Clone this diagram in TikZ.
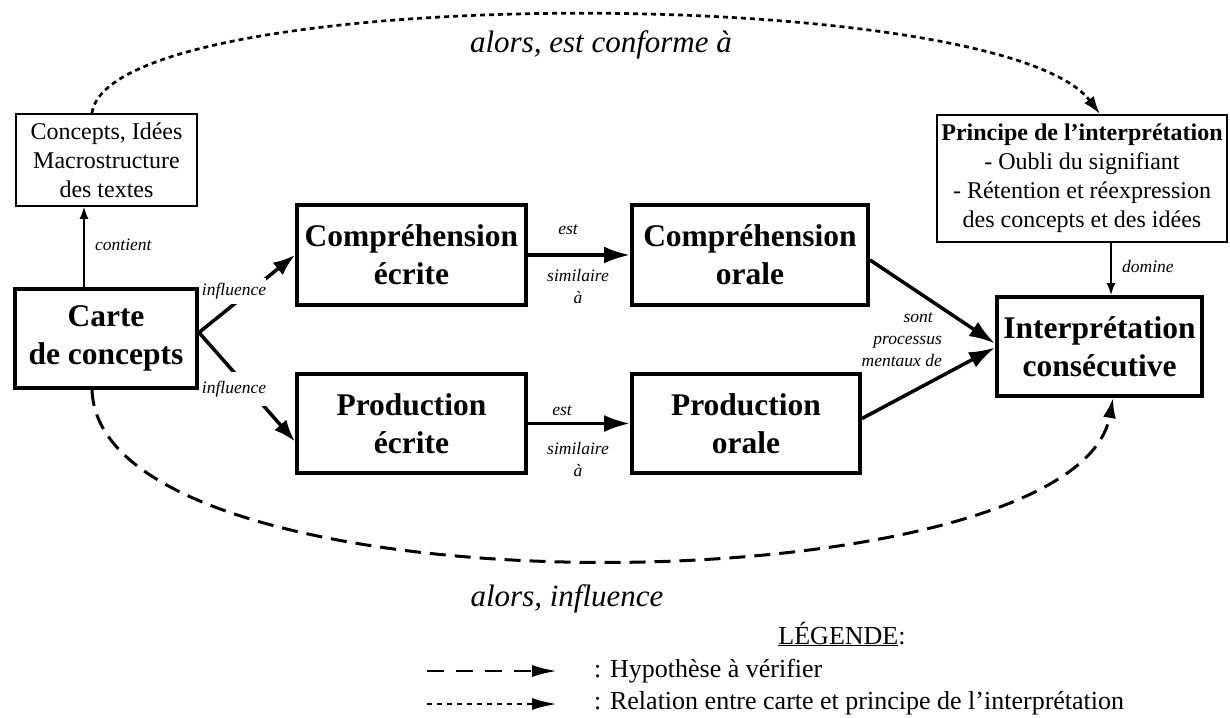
\documentclass[tikz,border=0pt]{standalone}
\usepackage{fontspec}
\setmainfont{Liberation Serif}
\usetikzlibrary{arrows.meta,calc}
\begin{document}
\begin{tikzpicture}[x=1pt,y=-1pt,
  bigbox/.style={draw, line width=4pt, inner sep=0pt, align=center,
    font=\fontsize{31.5}{38}\selectfont\bfseries},
  smallbox/.style={draw, line width=1.8pt, inner sep=0pt, align=center,
    font=\fontsize{24}{29}\selectfont},
  lbl/.style={font=\fontsize{17.5}{22}\selectfont\itshape, inner sep=1pt},
  biglbl/.style={font=\fontsize{31}{36}\selectfont\itshape, inner sep=0pt},
  legtext/.style={font=\fontsize{26}{30}\selectfont, inner sep=0pt},
  thickarr/.style={line width=3.5pt, -{Latex[length=26pt,width=17pt]}},
  medarr/.style={line width=3.5pt, -{Latex[length=22pt,width=16pt]}},
  thinarr/.style={line width=1.5pt, -{Latex[length=12pt,width=9pt]}},
  dotarr/.style={line width=2.7pt, dash pattern=on 5pt off 4pt, -{Latex[length=18pt,width=12pt]}},
  dasharr/.style={line width=3pt, dash pattern=on 16pt off 9pt, -{Latex[length=20pt,width=13pt]}},
  legdash/.style={line width=2.5pt, dash pattern=on 17pt off 12pt, -{Latex[length=25pt,width=12pt]}},
  legdot/.style={line width=2.5pt, dash pattern=on 5pt off 5pt, -{Latex[length=25pt,width=12pt]}}
]
\useasboundingbox (0,0) rectangle (1230,717);

% boxes
\node[bigbox, minimum width=182pt, minimum height=99pt] (carte) at (106,338.5) {Carte\\de concepts};
\node[bigbox, minimum width=229pt, minimum height=100pt] (ce) at (411.5,255) {Compréhension\\écrite};
\node[bigbox, minimum width=236pt, minimum height=100pt] (co) at (750,255) {Compréhension\\orale};
\node[bigbox, minimum width=229pt, minimum height=99pt] (pe) at (411.5,423.5) {Production\\écrite};
\node[bigbox, minimum width=228pt, minimum height=99pt] (po) at (746,423.5) {Production\\orale};
\node[bigbox, minimum width=205pt, minimum height=99pt] (interp) at (1099.5,346.5) {Interprétation\\consécutive};
\node[smallbox, minimum width=181pt, minimum height=92pt] (concepts) at (106.5,160) {Concepts, Idées\\Macrostructure\\des textes};
\node[smallbox, minimum width=290pt, minimum height=127pt] (principe) at (1082,178.5)
  {\textbf{Principe de l’interprétation}\\- Oubli du signifiant\\- Rétention et réexpression\\des concepts et des idées};

% helper coordinates
\coordinate (cx) at (84,0);
\coordinate (dx) at (1111,0);
\coordinate (tx) at (92,0);
\coordinate (ex) at (1100,0);
\coordinate (bx) at (1113,0);

% contient
\draw[thinarr] (carte.north -| cx) -- (concepts.south -| cx);
\node[lbl, anchor=west] (lcont) at (94,245) {contient};

% influence
\draw[medarr] ([yshift=6pt]carte.east) -- (ce.west);
\draw[medarr] ([yshift=6pt]carte.east) -- ([yshift=-18pt]pe.west);
\node[lbl, fill=white, inner xsep=0pt, inner ysep=5pt] (linf1) at (234,291) {influence};
\node[lbl, fill=white, inner xsep=0pt, inner ysep=9pt] (linf2) at (234,389) {influence};

% est similaire a
\draw[thickarr] (ce) -- (co);
\node[lbl] (lest1) at (568,230) {est};
\node[lbl, align=center] (lsim1) at (578,287) {similaire\\à};
\draw[thickarr] (pe) -- (po);
\node[lbl] (lest2) at (562,411) {est};
\node[lbl, align=center] (lsim2) at (578,460) {similaire\\à};

% sont processus mentaux de
\draw[thickarr] ([yshift=-5pt]co.east) -- ([yshift=3pt]interp.west);
\draw[thickarr] ([yshift=5pt]po.east) -- ([yshift=-1pt]interp.west);
\node[lbl, align=right, anchor=east] (lsont) at (943,340) {sont\hspace*{9pt}\\processus\\mentaux de};

% domine
\draw[thinarr] (principe.south -| dx) -- (interp.north -| dx);
\node[lbl, anchor=west] (ldom) at (1121,267) {domine};

% top dotted curve
\draw[dotarr] (concepts.north -| tx) .. controls (110,-18) and (1000,-18) .. (principe.north -| ex);
\node[biglbl] (ltop) at (601,45) {alors, est conforme à};

% bottom dashed curve
\draw[dasharr] (carte.south -| tx) .. controls (100,621) and (1075,610) .. (interp.south -| bx);
\node[biglbl] (lbot) at (567,599) {alors, influence};

% legend
\node[legtext] (leg) at (842,634) {\underline{LÉGENDE}:};
\coordinate (la1) at (427,671);
\coordinate (la2) at (557,671);
\coordinate (lb1) at (427,704);
\coordinate (lb2) at (557,704);
\draw[legdash] (la1) -- (la2);
\draw[legdot] (lb1) -- (lb2);
\node[legtext, anchor=west] (lt1) at (594,671) {: Hypothèse à vérifier};
\node[legtext, anchor=west] (lt2) at (594,703) {: Relation entre carte et principe de l’interprétation};
\end{tikzpicture}
\end{document}
